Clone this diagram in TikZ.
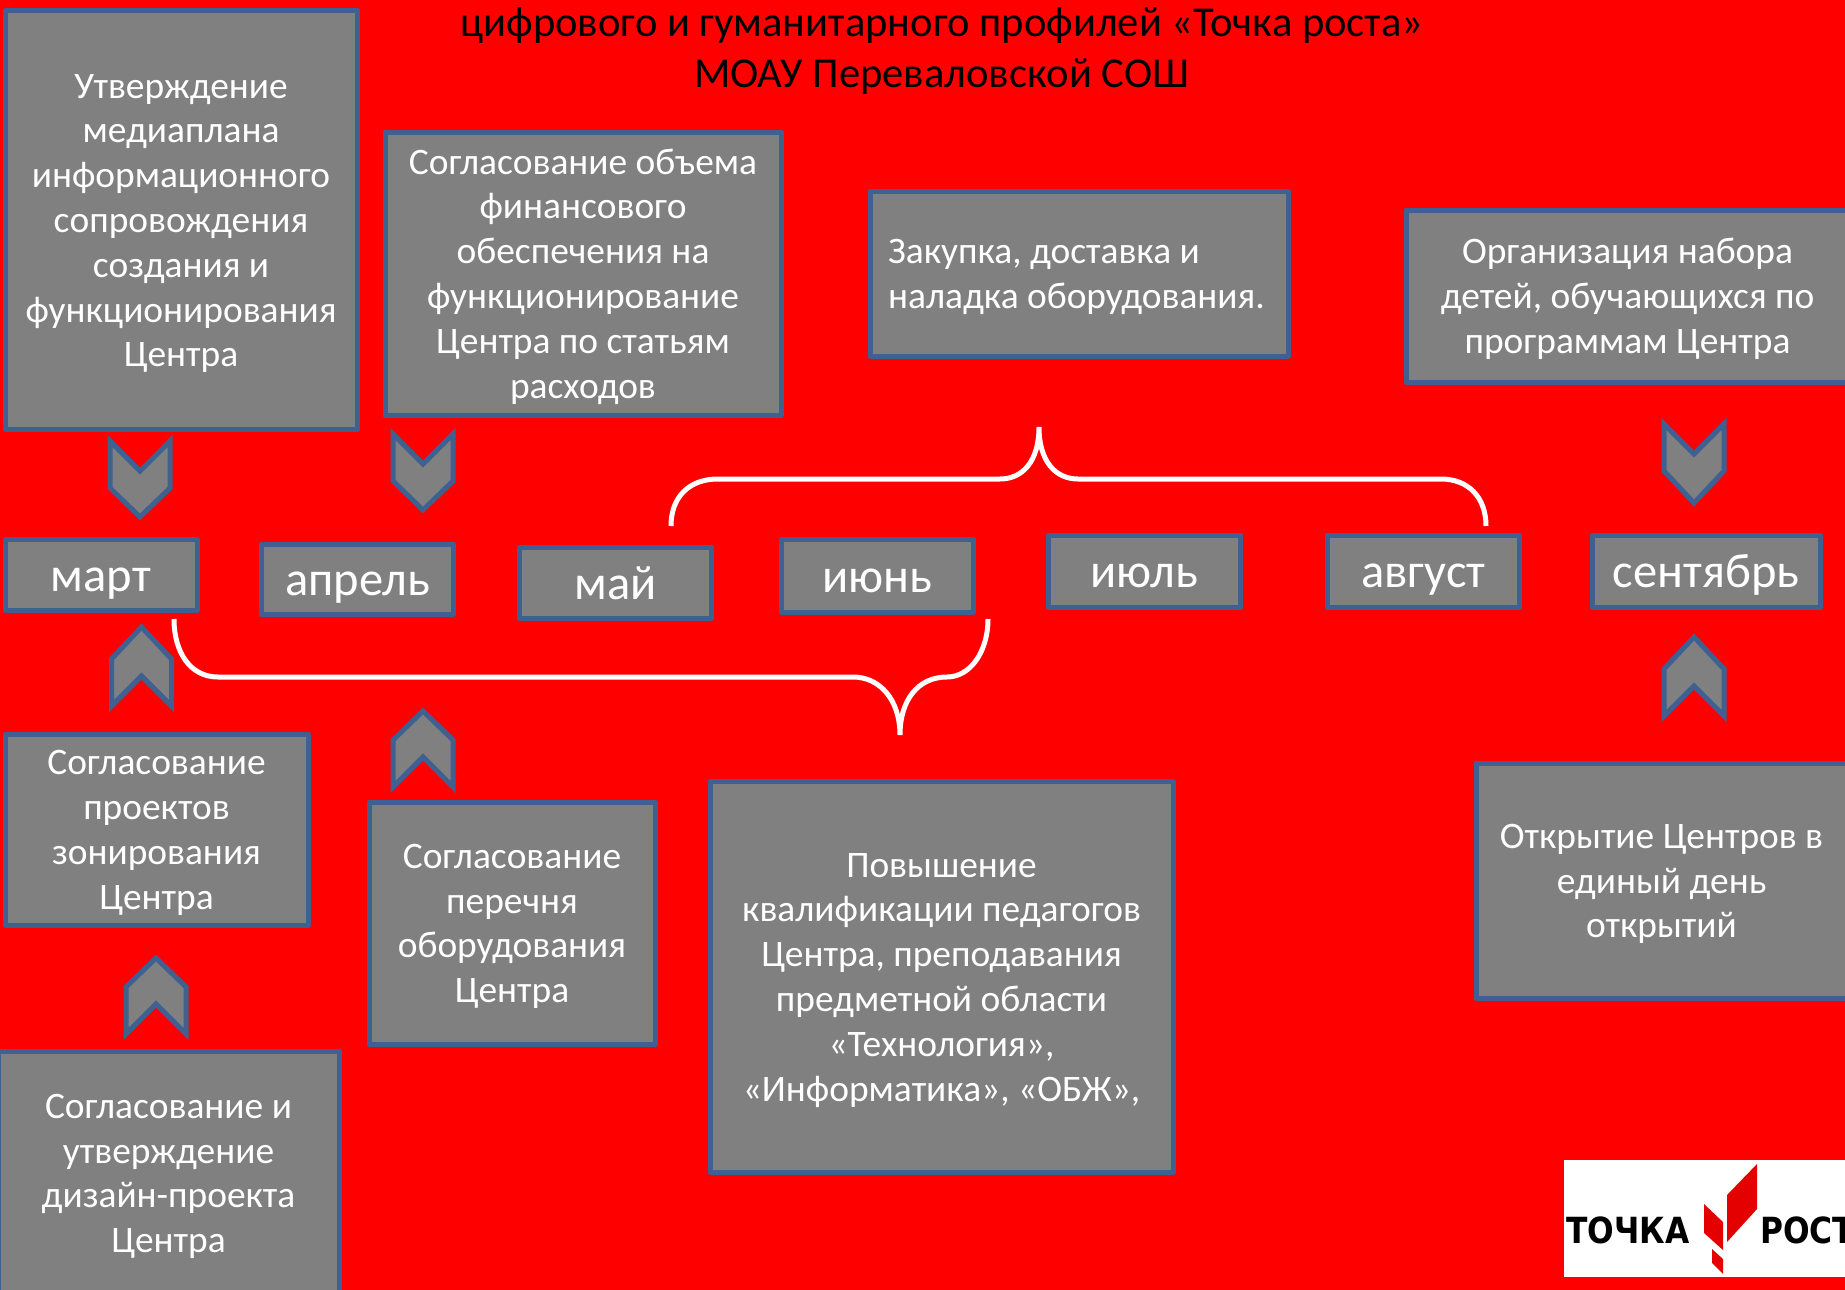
\documentclass[tikz,border=0pt]{standalone}
\usepackage{fontspec}
\setmainfont{Carlito}
\newfontfamily\logofont[FakeStretch=0.87]{DejaVu Sans}
\definecolor{bgred}{HTML}{FF0000}
\definecolor{boxgray}{HTML}{808080}
\definecolor{boxblue}{HTML}{3E6191}
\newcommand{\tp}{\rule{0pt}{34pt}}
\newcommand{\bt}{\rule[-9pt]{0pt}{9pt}}
\tikzset{
  x=1pt,y=-1pt,
  card/.style={draw=boxblue,fill=boxgray,line width=5pt,line join=round,inner sep=0pt,outer sep=0pt,align=center,text=white,font=\fontsize{37.4}{44.8}\selectfont},
  monthbox/.style={card,minimum width=192pt,text height=34pt,text depth=1pt,font=\fontsize{48.5}{50}\selectfont},
  chev/.style={draw=boxblue,fill=boxgray,line width=5pt,miter limit=10},
  bracket/.style={draw=white,line width=5pt,line cap=butt},
  heading/.style={inner sep=0pt,text=black,font=\fontsize{42.6}{50}\selectfont}
}
\newcommand{\downchev}[3]{\draw[chev] (#1-30,#2) -- (#1,#2+30) -- (#1+30,#2) -- (#1+30,#2+47) -- (#1,#3) -- (#1-30,#2+47) -- cycle;}
\newcommand{\upchev}[3]{\draw[chev] (#1-30,#2) -- (#1,#2-30) -- (#1+30,#2) -- (#1+30,#2-47) -- (#1,#3) -- (#1-30,#2-47) -- cycle;}
\begin{document}
\begin{tikzpicture}
\useasboundingbox (0,0) rectangle (1845,1290);
\clip (0,0) rectangle (1845,1290);
\fill[bgred] (0,0) rectangle (1845,1290);

\node[heading] (t1) at (942,25.5) {цифрового и гуманитарного профилей «Точка роста»};
\node[heading] (t2) at (942,76.5) {МОАУ Переваловской СОШ};

\node[card,minimum width=352pt,minimum height=418pt] (b1) at (181,220) {\tp Утверждение\\медиаплана\\информационного\\сопровождения\\создания и\\функционирования\\Центра\bt};
\node[card,minimum width=396pt,minimum height=283pt] (b2) at (583,273.5) {\tp Согласование объема\\финансового\\обеспечения на\\функционирование\\Центра по статьям\\расходов\bt};
\node[card,align=left,minimum width=418pt,minimum height=165pt] (b3) at (1079,273.5) {\tp Закупка, доставка и\\наладка оборудования.\hspace*{5pt}\bt};
\node[card,minimum width=443pt,minimum height=172pt] (b4) at (1627.5,296) {\tp Организация набора\\детей, обучающихся по\\программам Центра\bt};

\node[monthbox,minimum height=71pt] (m1) at (101,575) {март};
\node[monthbox,minimum height=70pt] (m2) at (357.5,579) {апрель};
\node[monthbox,minimum height=71pt] (m3) at (615.5,582.5) {май};
\node[monthbox,minimum height=73pt] (m4) at (877.5,575.5) {июнь};
\node[monthbox,minimum height=72pt] (m5) at (1144.5,571) {июль};
\node[monthbox,minimum height=72pt] (m6) at (1423.5,571) {август};
\node[monthbox,minimum width=228pt,minimum height=72pt] (m7) at (1706,571) {сентябрь};

\node[card,minimum width=303pt,minimum height=191pt] (b5) at (156.5,829.5) {\tp Согласование\\проектов\\зонирования\\Центра\bt};
\node[card,minimum width=286pt,minimum height=242pt] (b6) at (512,923) {\tp Согласование\\перечня\\оборудования\\Центра\bt};
\node[card,minimum width=463pt,minimum height=391pt] (b7) at (941.5,976.5) {\tp Повышение\\квалификации педагогов\\Центра, преподавания\\предметной области\\«Технология»,\\«Информатика», «ОБЖ»,\bt};
\node[card,minimum width=371pt,minimum height=235pt] (b8) at (1661.5,880.5) {\tp Открытие Центров в\\единый день\\открытий\bt};
\node[card,minimum width=341pt,minimum height=244pt] (b9) at (168.5,1173) {\tp Согласование и\\утверждение\\дизайн-проекта\\Центра\bt};

\downchev{140}{441}{517}
\downchev{423}{434}{510}
\upchev{141.5}{706}{627}
\upchev{423}{787}{711}
\upchev{156}{1034}{958}
\downchev{1694}{424}{503}
\upchev{1694}{716}{637}

\coordinate (ta) at (671,526);
\coordinate (tb) at (1039,427);
\coordinate (tc) at (1486,526);
\coordinate (ba) at (174,619);
\coordinate (bb) at (900,735);
\coordinate (bc) at (988,619);
\draw[bracket] (ta) .. controls (671,497) and (689,479) .. (718,479) -- (1000,479) .. controls (1022,479) and (1039,462) .. (tb) .. controls (1039,462) and (1056,479) .. (1078,479) -- (1441,479) .. controls (1468,479) and (1486,497) .. (tc);
\draw[bracket] (ba) .. controls (174,652) and (190,677) .. (218,677) -- (853,677) .. controls (880,677) and (900,700) .. (bb) .. controls (900,700) and (918,677) .. (947,677) .. controls (970,677) and (988,652) .. (bc);

\fill[white] (1564,1160) rectangle (1845,1277);
\node[anchor=base west,inner sep=0pt,text=black,font=\logofont\fontsize{36}{40}\bfseries\selectfont] (l1) at (1566,1243) {ТОЧКА};
\node[anchor=base west,inner sep=0pt,text=black,font=\logofont\fontsize{36}{40}\bfseries\selectfont] (l2) at (1760,1243) {РОСТ};
\fill[red!90!black] (1727,1195) -- (1757,1164) -- (1757,1209) -- (1727,1242) -- cycle;
\fill[red!90!black] (1704,1204) -- (1723,1222) -- (1723,1250) -- (1704,1233) -- cycle;
\fill[red!90!black] (1712,1249) -- (1723,1259) -- (1723,1274) -- (1712,1263) -- cycle;
\end{tikzpicture}
\end{document}
